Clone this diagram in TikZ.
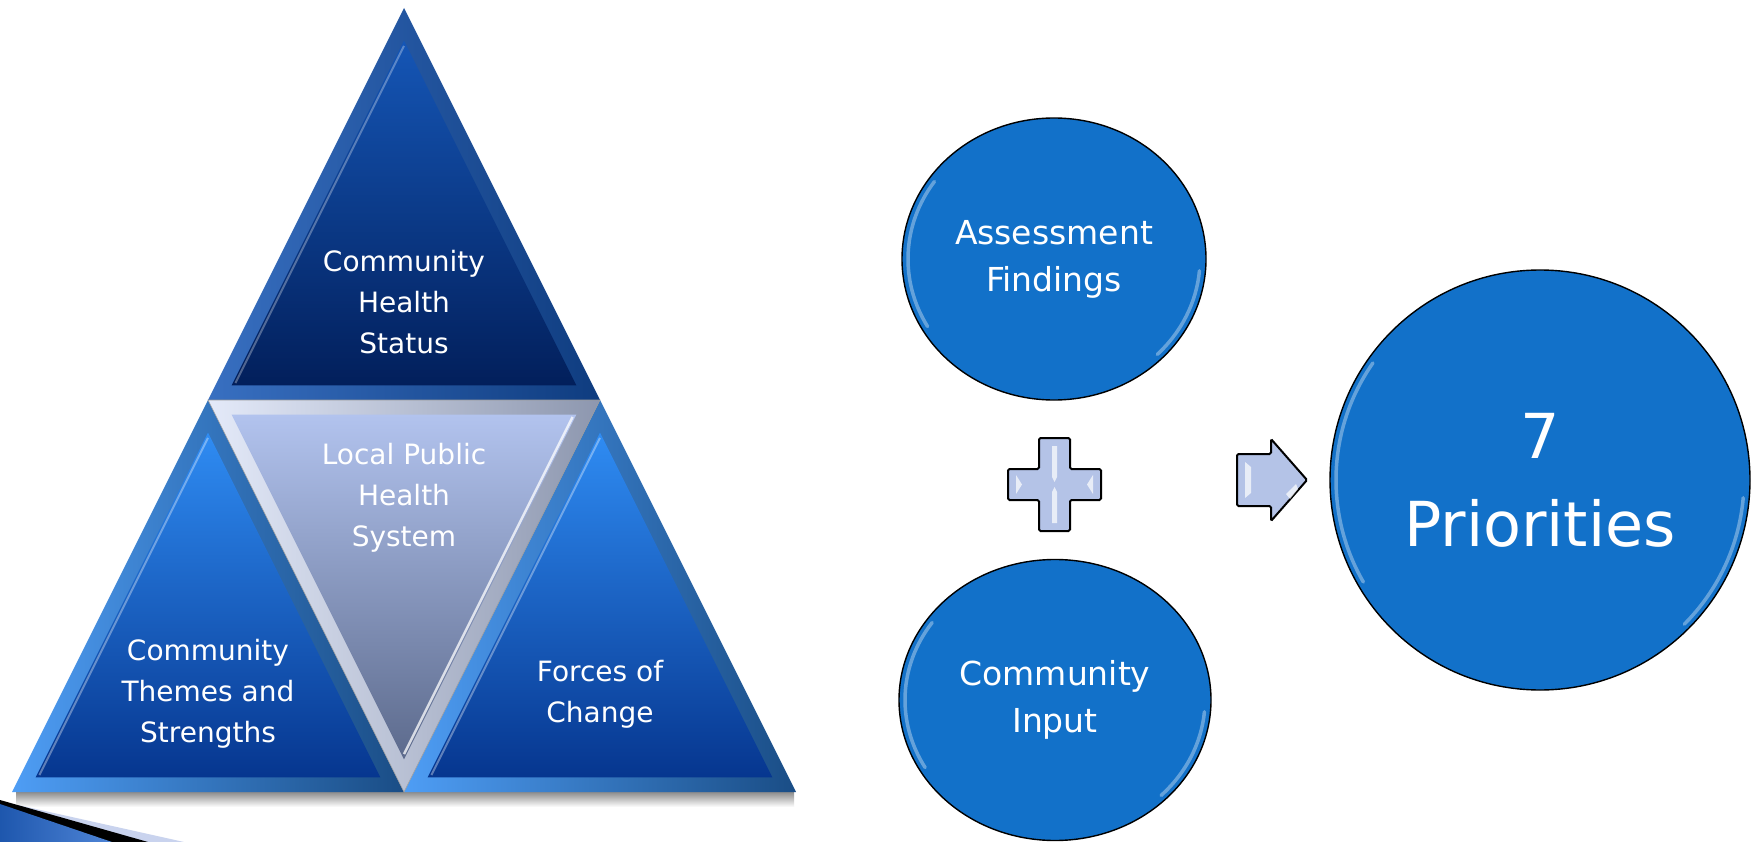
\documentclass[tikz,border=0pt]{standalone}
\usepackage{fontspec}
\setmainfont{DejaVu Sans}
\usetikzlibrary{calc,shapes.geometric}
\definecolor{Navy}{HTML}{021F5B}
\definecolor{NavyTop}{HTML}{1556B6}
\definecolor{Royal}{HTML}{2F8CF3}
\definecolor{RoyalLow}{HTML}{06368F}
\definecolor{Haze}{HTML}{B2C3EE}
\definecolor{HazeLow}{HTML}{5C6A8C}
\definecolor{Sky}{HTML}{1271C9}
\definecolor{Ice}{HTML}{B4C3E7}
\definecolor{Lilac}{HTML}{C9D3EE}
\definecolor{Corner}{HTML}{2366CC}
\tikzset{
 navyface/.style={top color=NavyTop,bottom color=Navy},
 navyrim/.style={left color=NavyTop!85!white,right color=NavyTop!70!black},
 navyglint/.style={draw=white,opacity=.3,line width=2pt},
 blueface/.style={top color=Royal,bottom color=RoyalLow},
 bluerim/.style={left color=Royal!85!white,right color=Royal!55!black},
 blueglint/.style={draw=white,opacity=.35,line width=2pt},
 greyface/.style={top color=Haze,bottom color=HazeLow},
 greyrim/.style={left color=Haze!35!white,right color=HazeLow!70!white,draw=black!40,line width=.6pt},
 greyglint/.style={draw=white,opacity=.75,line width=2.5pt},
 tri/.style={text=white,align=center,font=\fontsize{28}{41}\selectfont},
 bubble/.style={ellipse,fill=Sky,draw=black,line width=1.4pt,inner sep=0pt,text=white,align=center,font=\fontsize{33}{47}\selectfont},
 gloss/.style={draw=white,opacity=.35,line width=3.5pt,line cap=round},
 sign/.style={fill=Ice,draw=black,line width=2pt,rounded corners=1.5pt},
 shine/.style={fill=white,opacity=.7}
}
% bevelled triangle: corners #1 #2 #3, incentre #4, colour set #5
\newcommand{\facet}[5]{%
 \shade[#5rim] (#1) -- (#2) -- (#3) -- cycle;
 \shade[#5face] ($(#4)!.88!(#1)$) -- ($(#4)!.88!(#2)$) -- ($(#4)!.88!(#3)$) -- cycle;
 \draw[#5glint] ($(#4)!.86!(#1)$) -- ($(#4)!.86!(#2)$);
}

\begin{document}
\begin{tikzpicture}[x=1pt,y=-1pt]
\fill[white] (0,0) rectangle (1756,842);
\useasboundingbox (0,0) rectangle (1756,842);
% pyramid
\coordinate (apex) at (404,8);
\coordinate (ml) at (208,400);
\coordinate (mr) at (600,400);
\coordinate (bl) at (12,792);
\coordinate (bm) at (404,792);
\coordinate (br) at (796,792);
\shade[top color=black!45,bottom color=white] (16,792) rectangle (794,807);
\facet{apex}{ml}{mr}{404,279}{navy}
\facet{ml}{bl}{bm}{208,671}{blue}
\facet{mr}{bm}{br}{600,671}{blue}
\facet{mr}{bm}{ml}{404,521}{grey}
\node[tri] (status) at (404,302) {Community\\Health\\Status};
\node[tri] (lphs) at (404,498) {Local Public\\Health\\System};
\node[tri] (themes) at (208,694) {Community\\Themes and\\Strengths};
\node[tri] (forces) at (600,694) {Forces of\\Change};
% corner swoosh
\fill[Lilac] (18,805) -- (184,842) -- (0,842) -- cycle;
\fill[black] (0,800) -- (148,842) -- (0,842) -- cycle;
\shade[left color=Corner!85!black,right color=Corner!80!white] (0,804) -- (112,842) -- (0,842) -- cycle;
% circles
\node[bubble,minimum width=304pt,minimum height=282pt] (findings) at (1054,259) {Assessment\\Findings};
\node[bubble,minimum width=312pt,minimum height=281pt] (input) at (1055,700) {Community\\Input};
\node[bubble,minimum size=420pt,font=\fontsize{62}{88}\selectfont] (prio) at (1540,480) {7\\Priorities};
\foreach \n/\rx/\ry in {findings/146/135,input/150/135,prio/204/204}{
 \draw[gloss] ([shift={(145:\rx pt and \ry pt)}]\n.center) arc[start angle=145,end angle=210,x radius=\rx pt,y radius=\ry pt];
 \draw[gloss] ([shift={(-45:\rx pt and \ry pt)}]\n.center) arc[start angle=-45,end angle=-5,x radius=\rx pt,y radius=\ry pt];
}
% plus sign
\draw[sign] (1039,438) -- (1070,438) -- (1070,469) -- (1101,469) -- (1101,500) -- (1070,500) -- (1070,531) -- (1039,531) -- (1039,500) -- (1008,500) -- (1008,469) -- (1039,469) -- cycle;
\fill[shine] (1052,446) -- (1057,446) -- (1057,477) -- (1054.5,482) -- (1052,477) -- cycle;
\fill[shine] (1052,523) -- (1057,523) -- (1057,492) -- (1054.5,487) -- (1052,492) -- cycle;
\fill[shine] (1016,475) -- (1022,484.5) -- (1016,494) -- cycle;
\fill[shine] (1093,475) -- (1087,484.5) -- (1093,494) -- cycle;
% arrow
\draw[sign] (1237,454) -- (1271,454) -- (1271,439) -- (1307,480) -- (1271,521) -- (1271,506) -- (1237,506) -- cycle;
\fill[shine] (1245,462) -- (1251,467) -- (1251,493) -- (1245,498) -- cycle;
\fill[shine] (1286,494) -- (1296,484) -- (1298,489) -- (1290,499) -- cycle;
\end{tikzpicture}
\end{document}
